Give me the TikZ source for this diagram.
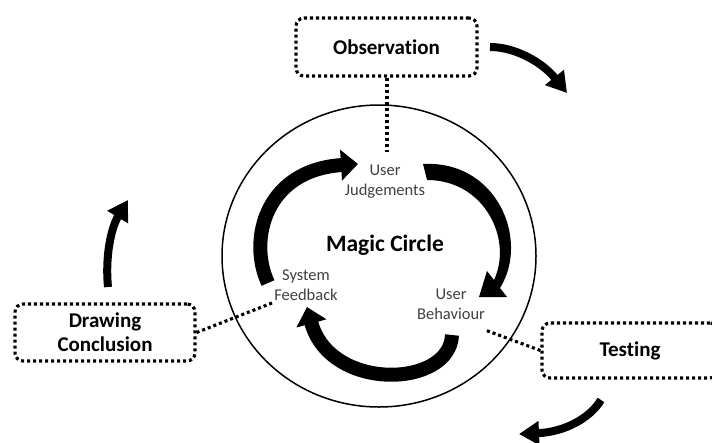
\documentclass[tikz,border=0pt]{standalone}
\usepackage{fontspec}
\setmainfont{Carlito}[Ligatures=NoCommon]
\usetikzlibrary{arrows.meta}
\definecolor{labgray}{HTML}{404040}
\tikzset{
  dotline/.style={line width=3.1pt, dash pattern=on 3.1pt off 2.9pt},
  box/.style={dotline, draw=black, rounded corners=8pt, font=\bfseries\fontsize{21}{24}\selectfont, align=center, inner sep=0pt},
  lab/.style={font=\fontsize{16.5}{20}\selectfont, text=labgray, align=center, inner sep=0pt},
  bigarrow/.style={line width=8pt, -{Triangle[length=20pt,width=23pt]}},
  blockarrow/.style={line width=14pt, -{Triangle[length=17pt,width=30pt]}},
}
\begin{document}
\begin{tikzpicture}[x=1pt,y=-1pt]
\useasboundingbox (0,0) rectangle (712,442);
% magic circle
\draw[line width=1.5pt] (379,256) ellipse [x radius=157pt, y radius=151pt];
% boxes
\node[box, minimum width=181pt, minimum height=58pt] (obs) at (386.5,47) {Observation};
\node[box, minimum width=180pt, minimum height=57pt] (dc) at (105,332.5) {Drawing\\Conclusion};
\node[box, minimum width=176pt, minimum height=55pt] (test) at (630,350.5) {Testing};
% inner labels
\node[lab] (uj) at (385,182) {User\\Judgements};
\node[lab] (sf) at (306,285) {System\\Feedback};
\node[lab] (ub) at (451,304) {User\\Behaviour};
\node[font=\bfseries\fontsize{23.5}{26}\selectfont, inner sep=0pt] (mc) at (385,245) {Magic Circle};
% connector ends
\coordinate (ujtop) at (387,152);
\coordinate (sfend) at (272,303);
\coordinate (ubend) at (485,330);
\draw[dotline] (obs.south -| ujtop) -- (ujtop);
\draw[dotline] (dc.east) -- (sfend);
\draw[dotline] (test.west) -- (ubend);
% inner block arrows
\coordinate (b1s) at (268,283);
\coordinate (b1e) at (358,164);
\coordinate (b3s) at (452,335);
\coordinate (b3e) at (307,307);
\draw[blockarrow] (b1s) .. controls (248,240) and (265,170) .. (b1e);
\fill (423,164) .. controls (497,160) and (530,240) .. (500,288) -- (507,297) -- (479,297) -- (487,271) -- (494,280)
  .. controls (513,240) and (485,180) .. (427,180) -- cycle;
\draw[blockarrow] (b3s) .. controls (450,388) and (330,392) .. (b3e);
% outer arrows
\coordinate (a1s) at (490,47);
\coordinate (a1e) at (567,93);
\coordinate (a2s) at (108,287);
\coordinate (a2e) at (128,200);
\coordinate (a3s) at (601,400);
\coordinate (a3e) at (519,434);
\draw[bigarrow] (a1s) .. controls (515,47) and (542,62) .. (a1e);
\draw[bigarrow] (a2s) .. controls (105,257) and (111,228) .. (a2e);
\draw[bigarrow] (a3s) .. controls (590,418) and (565,432) .. (a3e);
\end{tikzpicture}
\end{document}
